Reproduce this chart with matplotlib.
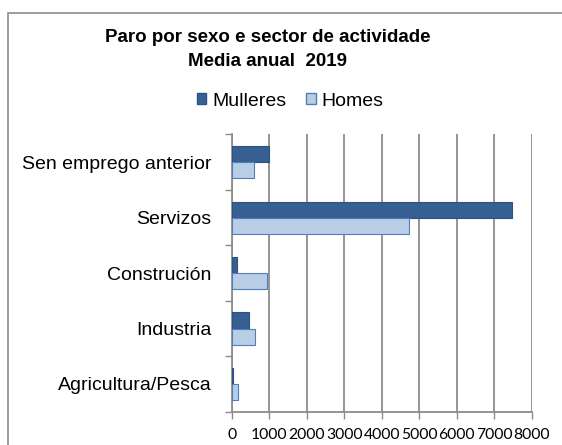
import matplotlib
matplotlib.use("Agg")
import matplotlib.pyplot as plt
import numpy as np
from matplotlib.patches import Rectangle, Patch

categories = ["Agricultura/Pesca", "Industria", "Construción", "Servizos", "Sen emprego anterior"]
mulleres = [27, 469, 133, 7467, 1005]
homes = [160, 629, 933, 4736, 595]
xticks = [0, 1000, 2000, 3000, 4000, 5000, 6000, 7000, 8000]

W, H = 562, 445
fig = plt.figure(figsize=(W / 100, H / 100), dpi=100)
ax = fig.add_axes([231.7 / W, 1 - 411.7 / H, 300 / W, (411.7 - 134.5) / H])

# outer frame (top and left visible)
fig.patches.append(Rectangle((7.5 / W, -0.2), 1.2, 1.2 - 12.5 / H, transform=fig.transFigure,
                             fill=False, edgecolor="#8c8c8c", linewidth=1.2, zorder=0))

y = np.arange(len(categories))
bh = 0.29
ax.barh(y + bh / 2, mulleres, height=bh, color="#376092", edgecolor="#2c5282", linewidth=0.8,
        label="Mulleres", zorder=3)
ax.barh(y - bh / 2, homes, height=bh, color="#b9cde5", edgecolor="#4f7fb8", linewidth=0.8,
        label="Homes", zorder=3)

ax.set_xlim(0, 8000)
ax.set_ylim(-0.5, len(categories) - 0.5)
ax.set_xticks(xticks)
ax.set_xticklabels([str(v) for v in xticks], fontfamily="Lato", fontsize=11.3)
ax.set_yticks(y)
ax.set_yticklabels(categories, fontfamily="Liberation Sans", fontsize=14)
ax.set_yticks(np.arange(-0.5, len(categories), 1.0), minor=True)
ax.tick_params(axis="y", which="major", length=0, pad=14.5)
ax.tick_params(axis="y", which="minor", length=5, width=1, color="#8c8c8c", direction="out")
ax.tick_params(axis="x", length=5, width=1, color="#8c8c8c", pad=6.5)
ax.grid(axis="x", color="#8c8c8c", linewidth=1.3, zorder=0)
ax.set_axisbelow(True)
for s in ["top", "right"]:
    ax.spines[s].set_visible(False)
for s in ["left", "bottom"]:
    ax.spines[s].set_color("#8c8c8c")
    ax.spines[s].set_linewidth(1.3)

tx = 267.5 / W
fig.text(tx, 1 - 38 / H, "Paro por sexo e sector de actividade", ha="center", va="center",
         fontfamily="Liberation Sans", fontweight="bold", fontsize=13.5)
fig.text(tx, 1 - 61.5 / H, "Media anual  2019", ha="center", va="center",
         fontfamily="Liberation Sans", fontweight="bold", fontsize=13.5)

handles = [Patch(facecolor="#376092", edgecolor="#2c5282"), Patch(facecolor="#b9cde5", edgecolor="#4f7fb8")]
fig.legend(handles, ["Mulleres", "Homes"], loc="center", bbox_to_anchor=(290 / W, 1 - 101 / H),
           ncol=2, frameon=False, prop={"family": "Liberation Sans", "size": 14},
           handlelength=0.5, handleheight=0.5, handletextpad=0.3, columnspacing=1.0)

fig.savefig("out.png", dpi=100)
